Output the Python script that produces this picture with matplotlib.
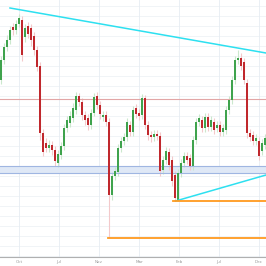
import matplotlib
matplotlib.use("Agg")
import matplotlib.pyplot as plt
from matplotlib.patches import Rectangle

# Candle data (arbitrary price units)
opens = [186, 206, 219, 226, 239, 236, 242, 246, 229, 240, 238, 230, 216, 200, 133, 123, 118, 121, 116, 103,
         111, 120, 138, 143, 148, 156, 170, 164, 151, 148, 141, 153, 170, 161, 149, 151, 144, 71, 90, 94,
         118, 125, 129, 141, 134, 158, 153, 151, 168, 141, 131, 129, 132, 130, 96, 106, 114, 106, 91, 66,
         93, 103, 110, 108, 100, 126, 144, 146, 138, 149, 139, 144, 138, 141, 134, 136, 156, 166, 186, 206,
         208, 204, 183, 133, 131, 125, 125, 115, 121]
closes = [206, 219, 226, 236, 236, 242, 248, 211, 238, 232, 226, 216, 199, 133, 114, 118, 121, 116, 105, 112,
          120, 138, 146, 150, 158, 170, 164, 151, 146, 141, 153, 169, 161, 152, 151, 144, 71, 90, 95, 118,
          125, 129, 144, 134, 156, 152, 150, 168, 141, 131, 129, 132, 130, 95, 106, 115, 101, 85, 68, 93,
          103, 110, 106, 100, 126, 144, 148, 138, 149, 139, 146, 136, 141, 134, 138, 156, 166, 186, 206, 208,
          200, 186, 133, 129, 125, 128, 110, 123, 128]
highs = [210, 223, 231, 240, 243, 246, 252, 250, 242, 244, 242, 234, 220, 204, 137, 128, 126, 125, 120, 116,
         124, 142, 150, 155, 163, 174, 173, 168, 155, 152, 157, 173, 174, 165, 155, 155, 148, 94, 99, 122,
         129, 133, 148, 145, 160, 162, 157, 172, 171, 145, 135, 136, 136, 134, 110, 119, 118, 110, 95, 97,
         107, 114, 114, 112, 130, 148, 152, 150, 153, 153, 150, 148, 145, 145, 142, 160, 170, 190, 210, 216,
         213, 208, 187, 137, 135, 132, 129, 127, 132]
lows = [182, 202, 215, 222, 231, 232, 239, 205, 224, 228, 220, 211, 195, 126, 110, 114, 114, 111, 100, 99,
        107, 116, 134, 139, 144, 152, 160, 146, 141, 136, 137, 150, 157, 147, 145, 140, 28, 66, 86, 90,
        114, 121, 125, 130, 130, 148, 146, 147, 137, 126, 124, 125, 126, 90, 92, 102, 96, 80, 65, 65,
        89, 99, 102, 96, 96, 122, 140, 134, 134, 135, 135, 132, 134, 130, 130, 132, 152, 162, 182, 202,
        196, 182, 128, 125, 121, 121, 106, 111, 117]

tick_labels = ["Oct", "Jul", "Nov", "Mar", "Feb", "Jul", "Dec"]
tick_pos = [6, 19.33, 32.67, 46, 59.33, 72.67, 86]

upper_trend = ([3, 88.33], [258, 213])
lower_trend = ([58.2, 88.33], [65, 91])
resistance_level = 167
support_zone = (93, 100)
orange_levels = [(35.5, 28), (57.4, 65)]

fig = plt.figure(figsize=(2.66, 2.66), dpi=100)
ax = fig.add_axes([0, 9 / 266, 1, 257 / 266])

x_min, x_max = -1 / 3, 88.33
ax.set_xlim(x_min, x_max)
ax.set_ylim(9, 266)

# grid
for yv in range(10, 270, 10):
    ax.axhline(yv, color="#eef2f6", lw=0.6, zorder=0)
for xv in tick_pos:
    ax.axvline(xv, color="#e6ecf3", lw=0.6, zorder=0)

green = "#3fa34d"
red = "#c0282d"
green_w = "#cbe8cd"
red_w = "#f3c9cb"
w = 0.6
for i, (o, c, h, l) in enumerate(zip(opens, closes, highs, lows)):
    up = c >= o
    ax.plot([i, i], [l, h], color=green_w if up else red_w, lw=0.8, zorder=1,
            solid_capstyle="butt")
    b = min(o, c)
    ax.add_patch(Rectangle((i - w / 2, b), w, max(abs(c - o), 1),
                           facecolor=green if up else red, edgecolor="none", zorder=2))

ax.axhline(resistance_level, color="#e2a6a6", lw=0.8, zorder=1.5)
ax.axhspan(support_zone[0], support_zone[1], facecolor="#dfe8f6", edgecolor="none", zorder=0.5)
ax.axhline(support_zone[0], color="#9fb6e2", lw=0.8, zorder=1.5)
ax.axhline(support_zone[1], color="#9fb6e2", lw=0.8, zorder=1.5)

ax.plot(*upper_trend, color="#2de0f0", lw=1.1, zorder=3)
ax.plot(*lower_trend, color="#2de0f0", lw=1.1, zorder=3)
for x0, yv in orange_levels:
    ax.plot([x0, x_max], [yv, yv], color="#ff9a1f", lw=1.3, zorder=3)

for s in ["top", "right", "left"]:
    ax.spines[s].set_visible(False)
ax.spines["bottom"].set_color("#b0b0b0")
ax.spines["bottom"].set_linewidth(0.8)
ax.set_yticks([])
ax.set_xticks(tick_pos)
ax.set_xticklabels(tick_labels, fontsize=3, color="#9a9a9a")
ax.tick_params(axis="x", length=0, pad=2)

fig.savefig("out.png", dpi=100)
